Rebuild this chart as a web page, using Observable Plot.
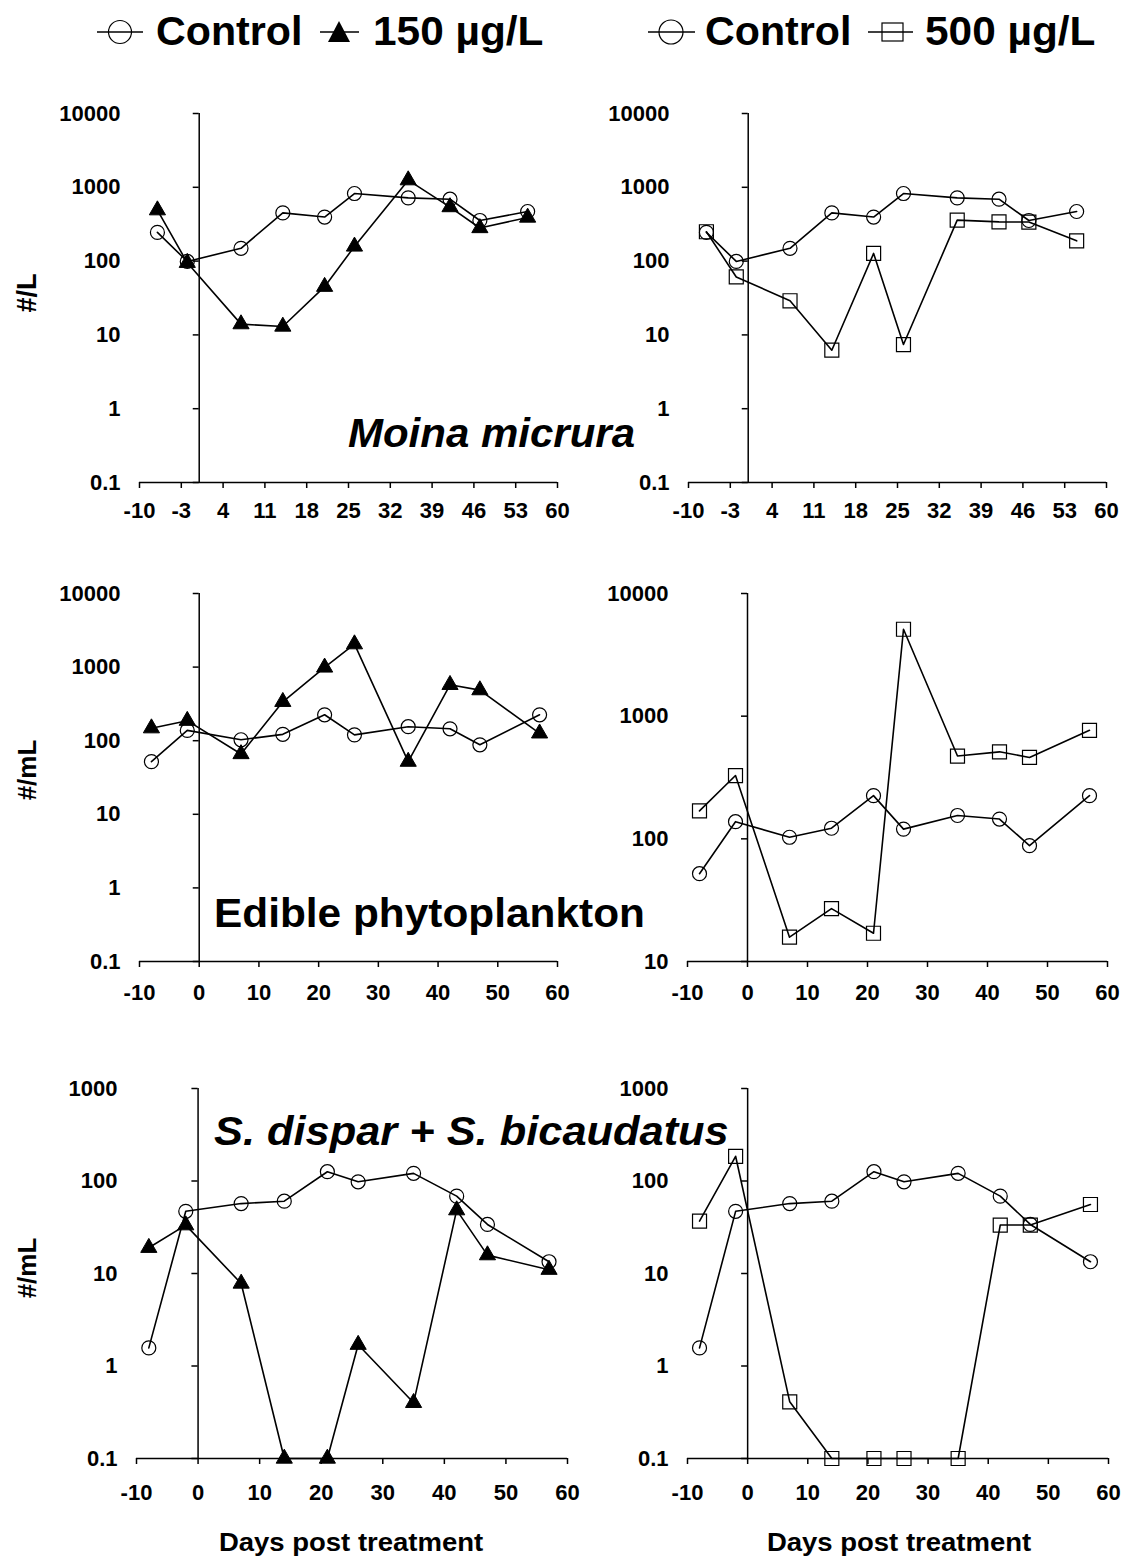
<!DOCTYPE html>
<html>
<head>
<meta charset="utf-8">
<script src="https://cdn.jsdelivr.net/npm/d3@7"></script>
<script src="https://cdn.jsdelivr.net/npm/@observablehq/plot@0.6"></script>
<style>
  body { margin: 0; background: #fff; }
  #fig { position: relative; width: 1125px; height: 1562px; overflow: hidden; background: #fff;
         font-family: "Liberation Sans", Arial, Helvetica, sans-serif; color: #000; }
  #fig svg { position: absolute; }
  #overlay { left: 0; top: 0; pointer-events: none; }
</style>
</head>
<body>
<div id="fig"></div>
<script>
// Sampling days (days post treatment)
const daysMoina = [-7, -2, 7, 14, 21, 26, 35, 42, 47, 55];
const daysOther = [-8, -2, 7, 14, 21, 26, 35, 42, 47, 57];

// Tick labels
const xTicksWeekly = [-10, -3, 4, 11, 18, 25, 32, 39, 46, 53, 60];
const xTicksDecade = [-10, 0, 10, 20, 30, 40, 50, 60];
const yTicksFull = [0.1, 1, 10, 100, 1000, 10000];
const yTicksPhyto500 = [10, 100, 1000, 10000];
const yTicksCope = [0.1, 1, 10, 100, 1000];

// Moina micrura (#/L)
const moinaControl = [245, 99, 149, 450, 395, 824, 719, 690, 355, 470];
const moina150 = [490, 95, 14, 13, 45, 158, 1250, 540, 281, 390];
const moina500 = [250, 61, 29, 6.2, 127, 7.4, 359, 340, 338, 188];

// Edible phytoplankton (#/mL)
const phytoControl = [52, 138, 103, 122, 225, 120, 155, 145, 88, 225];
const phyto150 = [148, 187, 66, 338, 990, 2050, 52, 575, 487, 126];
const phyto500 = [169, 328, 15.8, 27, 17, 5110, 473, 512, 461, 767];

// S. dispar + S. bicaudatus (#/mL)
const copeControl = [1.57, 47, 57, 60.5, 126, 98, 121, 68.6, 33.9, 13.4];
const cope150 = [19, 33.3, 7.8, 0.1, 0.1, 1.7, 0.4, 48.4, 15.8, 11];
const cope500 = [36.8, 185, 0.41, 0.1, 0.1, 0.1, 0.1, 33.4, 33.4, 55.7];

const FONT = '"Liberation Sans", Arial, Helvetica, sans-serif';

const markerStyle = {
  control: {symbol: "circle", r: 7, fill: "none", stroke: "black", strokeWidth: 1.2},
  t150: {symbol: "triangle", r: 6, fill: "black", stroke: "black", strokeWidth: 1},
  t500: {symbol: "square", r: 7.9, fill: "none", stroke: "black", strokeWidth: 1.2}
};

const fig = document.getElementById("fig");

function panel({days, series, yDomain, yTicks, xTicks, frame, tickPadding}) {
  const mL = 130, mR = 30, mT = 30, mB = 60;
  const w = frame.right - frame.left;
  const h = frame.bottom - frame.top;
  const marks = [
    // x axis line at the bottom of the value range
    Plot.ruleY([yDomain[0]], {stroke: "black", strokeWidth: 1.5}),
    // vertical axis crossing at day 0
    Plot.ruleX([0], {stroke: "black", strokeWidth: 1.5}),
    // short ticks on the vertical axis
    Plot.ruleY(yTicks, {y: d => d, x1: -1, x2: 0, stroke: "black", strokeWidth: 1.5}),
    Plot.axisX({ticks: xTicks, tickFormat: d => String(d), tickSize: 6, tickPadding,
                fontSize: 22, fontWeight: "bold", strokeWidth: 1.5, label: null}),
    Plot.axisY({ticks: yTicks, tickFormat: d => String(d), tickSize: 0, tickPadding: 19,
                fontSize: 22, fontWeight: "bold", label: null})
  ];
  for (const s of series) {
    const rows = days.map((d, i) => ({day: d, value: s.values[i]}));
    marks.push(Plot.line(rows, {x: "day", y: "value", stroke: "black", strokeWidth: 1.6}));
  }
  for (const s of series) {
    const rows = days.map((d, i) => ({day: d, value: s.values[i]}));
    marks.push(Plot.dot(rows, {x: "day", y: "value", ...markerStyle[s.kind]}));
  }
  const chart = Plot.plot({
    width: w + mL + mR,
    height: h + mT + mB,
    marginLeft: mL, marginRight: mR, marginTop: mT, marginBottom: mB,
    style: {background: "transparent", overflow: "visible", fontFamily: FONT, fontSize: "22px", color: "black"},
    x: {domain: [-10, 60]},
    y: {type: "log", domain: yDomain},
    marks
  });
  chart.style.left = (frame.left - mL) + "px";
  chart.style.top = (frame.top - mT) + "px";
  fig.appendChild(chart);
}

// Row 1: Moina micrura
panel({days: daysMoina, xTicks: xTicksWeekly, yDomain: [0.1, 10000], yTicks: yTicksFull, tickPadding: 14,
       frame: {left: 139, right: 557, top: 113, bottom: 482},
       series: [{kind: "control", values: moinaControl}, {kind: "t150", values: moina150}]});
panel({days: daysMoina, xTicks: xTicksWeekly, yDomain: [0.1, 10000], yTicks: yTicksFull, tickPadding: 14,
       frame: {left: 688, right: 1106, top: 113, bottom: 482},
       series: [{kind: "control", values: moinaControl}, {kind: "t500", values: moina500}]});

// Row 2: edible phytoplankton
panel({days: daysOther, xTicks: xTicksDecade, yDomain: [0.1, 10000], yTicks: yTicksFull, tickPadding: 17,
       frame: {left: 139, right: 557, top: 593, bottom: 961},
       series: [{kind: "control", values: phytoControl}, {kind: "t150", values: phyto150}]});
panel({days: daysOther, xTicks: xTicksDecade, yDomain: [10, 10000], yTicks: yTicksPhyto500, tickPadding: 17,
       frame: {left: 687, right: 1107, top: 593, bottom: 961},
       series: [{kind: "control", values: phytoControl}, {kind: "t500", values: phyto500}]});

// Row 3: S. dispar + S. bicaudatus
panel({days: daysOther, xTicks: xTicksDecade, yDomain: [0.1, 1000], yTicks: yTicksCope, tickPadding: 20,
       frame: {left: 136, right: 567, top: 1088, bottom: 1458},
       series: [{kind: "control", values: copeControl}, {kind: "t150", values: cope150}]});
panel({days: daysOther, xTicks: xTicksDecade, yDomain: [0.1, 1000], yTicks: yTicksCope, tickPadding: 20,
       frame: {left: 687, right: 1108, top: 1088, bottom: 1458},
       series: [{kind: "control", values: copeControl}, {kind: "t500", values: cope500}]});

// Legends, panel titles and axis titles
const overlay = d3.select(fig).append("svg")
  .attr("id", "overlay").attr("width", 1125).attr("height", 1562)
  .style("font-family", FONT).style("font-weight", "bold");

function legendLine(x1, x2, y) {
  overlay.append("line").attr("x1", x1).attr("x2", x2).attr("y1", y).attr("y2", y)
    .attr("stroke", "black").attr("stroke-width", 1.5);
}
// text placed at (x, y) with optional horizontal stretch sx
function label(text, x, y, size, opts = {}) {
  const sx = opts.sx || 1;
  const t = overlay.append("text").attr("x", 0).attr("y", 0)
    .attr("font-size", size).attr("fill", "black").text(text);
  if (opts.italic) t.attr("font-style", "italic");
  if (opts.anchor) t.attr("text-anchor", opts.anchor);
  const rot = opts.rotate ? " rotate(-90)" : "";
  t.attr("transform", `translate(${x},${y})${rot} scale(${sx},1)`);
  return t;
}

// left legend
legendLine(97, 143, 32);
overlay.append("circle").attr("cx", 120).attr("cy", 32).attr("r", 11.5)
  .attr("fill", "none").attr("stroke", "black").attr("stroke-width", 1.2);
label("Control", 156, 45, 40, {sx: 1.03});
legendLine(320, 359, 32);
overlay.append("path").attr("d", "M339,21L350,42L328,42Z").attr("fill", "black");
label("150 µg/L", 373, 45, 40, {sx: 1.06});

// right legend
legendLine(648, 695, 32);
overlay.append("circle").attr("cx", 671).attr("cy", 32).attr("r", 12)
  .attr("fill", "none").attr("stroke", "black").attr("stroke-width", 1.2);
label("Control", 705, 45, 40, {sx: 1.03});
legendLine(868, 913, 32);
overlay.append("rect").attr("x", 882).attr("y", 23).attr("width", 21).attr("height", 18)
  .attr("fill", "none").attr("stroke", "black").attr("stroke-width", 1.2);
label("500 µg/L", 925, 45, 40, {sx: 1.06});

// panel titles
label("Moina micrura", 348, 447, 40, {italic: true, sx: 1.05});
label("Edible phytoplankton", 214, 927, 40, {sx: 1.06});
label("S. dispar + S. bicaudatus", 214, 1145, 40, {italic: true, sx: 1.085});

// axis titles
label("#/L", 36, 293, 27, {anchor: "middle", rotate: true});
label("#/mL", 36, 770, 26, {anchor: "middle", rotate: true});
label("#/mL", 36, 1268, 26, {anchor: "middle", rotate: true});
label("Days post treatment", 351, 1551, 25, {anchor: "middle", sx: 1.1});
label("Days post treatment", 899, 1551, 25, {anchor: "middle", sx: 1.1});
</script>
</body>
</html>
